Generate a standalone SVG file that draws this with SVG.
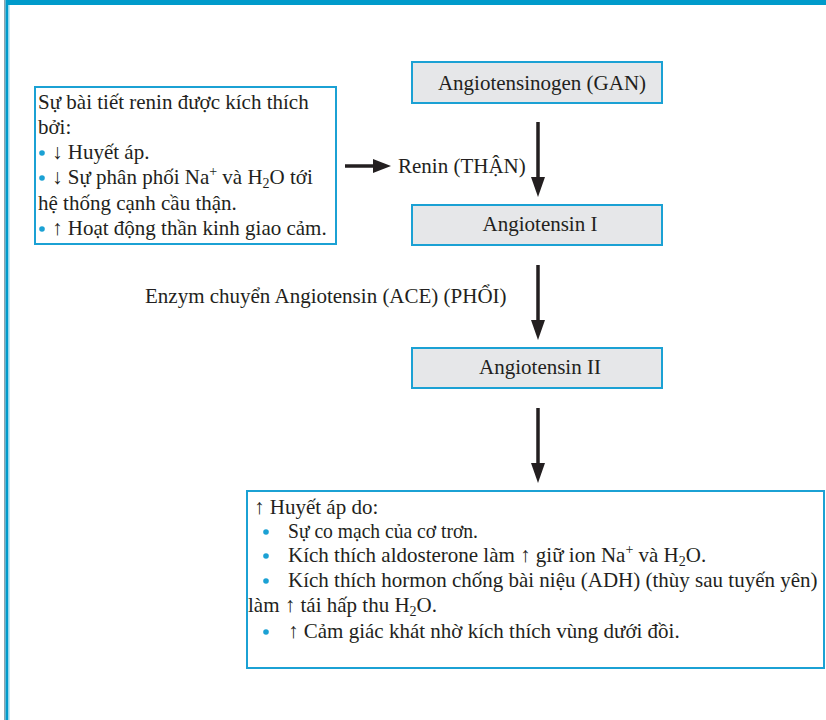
<svg xmlns="http://www.w3.org/2000/svg" width="826" height="720" viewBox="0 0 826 720">
  <style>
    text { font-family: "Liberation Serif", "Times New Roman", serif; font-size: 21px; fill: #231F20; }
    .mid { text-anchor: middle; }
    .box { fill: #FFFFFF; stroke: #1BA1D4; stroke-width: 2; }
    .step { fill: #E6E7E9; stroke: #1BA1D4; stroke-width: 2; }
    .shaft { stroke: #231F20; stroke-width: 3.5; fill: none; }
    .head { fill: #231F20; }
    .dot { fill: #1BA1D4; }
    .sub { font-size: 14px; }
  </style>

  <!-- page frame -->
  <g id="frame">
    <rect x="0" y="0" width="826" height="720" fill="#FFFFFF"/>
    <rect x="6" y="0" width="820" height="5" fill="#009BCB"/>
    <rect x="4" y="0" width="1.5" height="720" fill="#8FA3AD"/>
    <rect x="5.5" y="0" width="2.8" height="720" fill="#009BCB"/>
    <rect x="8.3" y="5" width="1.2" height="715" fill="#8AD3EE"/>
  </g>

  <!-- connectors -->
  <g id="connectors">
    <line class="shaft" x1="538" y1="122" x2="538" y2="180"/>
    <polygon class="head" points="531,177 545,177 538,197"/>
    <line class="shaft" x1="538" y1="265" x2="538" y2="323"/>
    <polygon class="head" points="531,320 545,320 538,340"/>
    <line class="shaft" x1="538" y1="408" x2="538" y2="466"/>
    <polygon class="head" points="531,463 545,463 538,483"/>
    <line class="shaft" x1="345" y1="166" x2="376" y2="166"/>
    <polygon class="head" points="373,159 373,173 391,166"/>
  </g>

  <!-- stimuli for renin release -->
  <g id="stimuli">
    <rect class="box" x="35" y="87" width="301" height="157"/>
    <text x="38" y="109">Sự bài tiết renin được kích thích</text>
    <text x="38" y="134">bởi:</text>
    <circle class="dot" cx="42" cy="153" r="2.8"/>
    <text x="52" y="159">↓ Huyết áp.</text>
    <circle class="dot" cx="42" cy="178" r="2.8"/>
    <text x="52" y="184">↓ Sự phân phối Na<tspan class="sub" dy="-8">+</tspan><tspan dy="8"> và H</tspan><tspan class="sub" dy="4">2</tspan><tspan dy="-4">O tới</tspan></text>
    <text x="38" y="210">hệ thống cạnh cầu thận.</text>
    <circle class="dot" cx="42" cy="229" r="2.8"/>
    <text x="52" y="235">↑ Hoạt động thần kinh giao cảm.</text>
  </g>

  <g id="renin-label">
    <text x="398" y="173">Renin (THẬN)</text>
  </g>

  <g id="ace-label">
    <text x="145" y="303">Enzym chuyển Angiotensin (ACE) (PHỔI)</text>
  </g>

  <g id="angiotensinogen">
    <rect class="step" x="412" y="62" width="250" height="41"/>
    <text class="mid" x="542" y="90">Angiotensinogen (GAN)</text>
  </g>

  <g id="angiotensin-1">
    <rect class="step" x="412" y="205" width="250" height="40"/>
    <text class="mid" x="540" y="231">Angiotensin I</text>
  </g>

  <g id="angiotensin-2">
    <rect class="step" x="412" y="348" width="250" height="40"/>
    <text class="mid" x="540" y="374">Angiotensin II</text>
  </g>

  <!-- effects of angiotensin II -->
  <g id="effects">
    <rect class="box" x="247" y="491" width="577" height="177"/>
    <text x="254" y="514">↑ Huyết áp do:</text>
    <circle class="dot" cx="266" cy="532" r="2.8"/>
    <text x="288" y="538" textLength="190" lengthAdjust="spacingAndGlyphs">Sự co mạch của cơ trơn.</text>
    <circle class="dot" cx="266" cy="556" r="2.8"/>
    <text x="288" y="562">Kích thích aldosterone làm ↑ giữ ion Na<tspan class="sub" dy="-8">+</tspan><tspan dy="8"> và H</tspan><tspan class="sub" dy="4">2</tspan><tspan dy="-4">O.</tspan></text>
    <circle class="dot" cx="266" cy="581" r="2.8"/>
    <text x="288" y="587">Kích thích hormon chống bài niệu (ADH) (thùy sau tuyến yên)</text>
    <text x="248" y="612">làm ↑ tái hấp thu H<tspan class="sub" dy="4">2</tspan><tspan dy="-4">O.</tspan></text>
    <circle class="dot" cx="266" cy="632" r="2.8"/>
    <text x="288" y="638">↑ Cảm giác khát nhờ kích thích vùng dưới đồi.</text>
  </g>
</svg>
